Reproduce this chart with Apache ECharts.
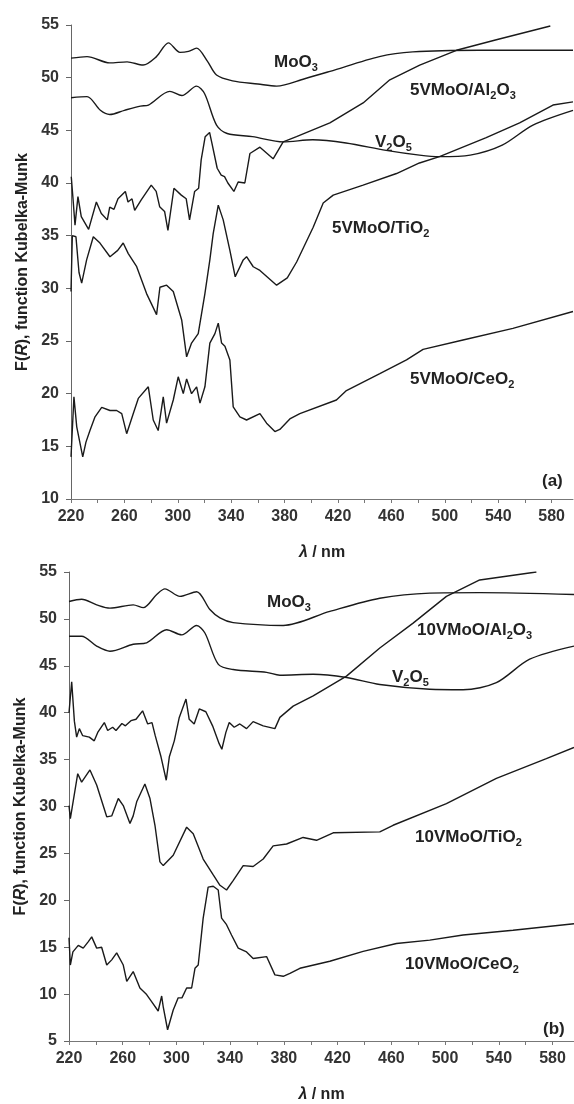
<!DOCTYPE html>
<html>
<head>
<meta charset="utf-8">
<script src="https://cdn.jsdelivr.net/npm/echarts@6/dist/echarts.min.js"></script>
<style>
html, body { margin: 0; padding: 0; background: #fff; }
#chart { width: 574px; height: 1104px; }
</style>
</head>
<body>
<div id="chart"></div>
<script>
// axis ticks
var xTicks = [220, 240, 260, 280, 300, 320, 340, 360, 380, 400, 420, 440, 460, 480, 500, 520, 540, 560, 580];
var xTickLabels = [220, 260, 300, 340, 380, 420, 460, 500, 540, 580];

// panel (a) - [wavelength nm, F(R)]
var aMoO3 = [[220,51.85],[232,52.0],[249,51.4],[262,51.5],[274,51.2],[284,52.0],[293,53.3],[301.6,52.4],[308,52.5],[314,52.8],[322,51.6],[329,50.25],[341,49.7],[360,49.4],[374,49.2],[395,49.9],[414,50.6],[451,52.0],[476,52.45],[526,52.6],[596,52.6]];
var aV2O5 = [[220,48.1],[232,48.2],[242,46.9],[249,46.5],[260,46.9],[272,47.3],[278,47.4],[294,48.7],[303,48.3],[314,49.2],[320,48.5],[329,45.5],[337,44.7],[356,44.4],[379,43.9],[401,44.1],[426,43.8],[456,43.1],[481,42.65],[496,42.5],[519,42.65],[543,43.6],[566,45.5],[596,46.9]];
var aAl = [[220.2,40.6],[221.5,38.5],[223,36.0],[225.2,38.7],[227.7,36.8],[233.2,35.6],[239,38.2],[242.7,37.1],[247.2,36.5],[249,37.7],[252.2,37.5],[255.2,38.5],[260.7,39.2],[262.7,38.2],[265.7,38.5],[267.7,37.4],[272.6,38.4],[280.1,39.8],[283.8,39.2],[286.4,37.75],[290.1,37.3],[292.6,35.5],[297.1,39.5],[302.6,38.85],[306.3,38.5],[308.8,36.5],[312.6,39.2],[315.6,39.5],[317.5,42.2],[320.5,44.4],[323.8,44.8],[325.5,43.8],[329.5,41.4],[332.5,40.75],[335,40.6],[337.5,40.0],[342,39.2],[345.2,40.1],[350.2,40.0],[354,42.8],[361.5,43.4],[371.4,42.3],[378.9,43.9],[388.9,44.4],[413.9,45.7],[438.8,47.6],[458.8,49.8],[481.2,51.2],[508.7,52.6],[538.6,53.6],[579,54.9]];
var aTi = [[220,29.7],[221,35.0],[223.7,34.9],[226,31.5],[228,30.5],[231.7,32.7],[236.7,34.9],[241.7,34.3],[249.2,33.0],[255,33.6],[259.1,34.3],[262.9,33.3],[269.2,32.05],[276.6,29.5],[284.1,27.5],[286.6,30.1],[291.6,30.3],[296.6,29.7],[302.9,27.0],[306.6,23.5],[310.3,24.8],[315.3,25.7],[320.3,29.5],[324,32.7],[326.5,35.2],[330.3,37.9],[334,36.5],[339,33.6],[343,31.1],[349,32.7],[351.5,33.0],[356.5,32.05],[361.5,31.7],[374,30.3],[382,31.0],[389,32.5],[401.4,35.8],[408.9,38.1],[416.4,38.85],[438.8,39.8],[463.8,40.9],[481,41.9],[496,42.5],[531,44.3],[556,45.7],[581,47.4],[596,47.7]];
var aCe = [[220,14.0],[222.2,19.7],[224.3,16.85],[228.8,14.0],[231.2,15.4],[234.2,16.5],[238,17.8],[243,18.7],[249.2,18.4],[254.2,18.4],[258,18.1],[261.7,16.2],[266.6,18.1],[270.4,19.55],[277.9,20.65],[281.6,17.5],[285.3,16.5],[289.1,19.7],[291.6,17.2],[296.6,19.4],[300.3,21.6],[304.1,20.0],[306.6,21.4],[310.3,20.0],[314.1,20.65],[316.6,19.1],[320.3,20.65],[324,24.8],[327.8,25.7],[330.3,26.7],[332.8,24.8],[335.3,24.5],[339,23.2],[341.5,18.75],[346.5,17.8],[351.5,17.5],[361.5,18.1],[366.5,17.2],[372.7,16.4],[376.4,16.6],[383.9,17.6],[391.4,18.1],[418.8,19.4],[426.3,20.3],[451.3,21.9],[471.3,23.2],[483.7,24.2],[513.6,25.1],[551,26.2],[596,27.8]];

// panel (b)
var bMoO3 = [[220,51.85],[229.4,52.1],[240.6,51.5],[250.5,51.15],[267.8,51.5],[275.3,51.2],[285.3,52.6],[291.4,53.2],[302.6,52.4],[315,52.9],[324.9,51.0],[332.4,50.1],[342.2,49.6],[379.5,49.3],[414.2,50.8],[451.4,52.2],[488.6,52.75],[525.8,52.8],[596,52.6]];
var bV2O5 = [[220,48.15],[229.4,48.15],[240.6,47.1],[250.5,46.55],[267.8,47.3],[277.8,47.45],[292.7,48.85],[303.9,48.3],[315,49.3],[321.2,48.5],[331.2,45.15],[342.2,44.6],[367.1,44.3],[377,44.0],[401.8,44.1],[426.6,43.75],[451.4,43.0],[488.6,42.5],[513.4,42.45],[538.2,43.2],[563,45.7],[596,47.1]];
var bAl = [[220,40.0],[222,43.3],[224,39.1],[225.7,37.4],[227.7,38.3],[230.2,37.55],[235.1,37.4],[238.8,37.0],[241.4,37.9],[246.3,38.95],[248.8,38.1],[252.5,38.45],[255,38.1],[259.4,38.85],[262,38.6],[266.1,39.15],[269.9,39.3],[274.8,40.2],[278.6,38.8],[281.8,38.95],[284.2,37.55],[288.5,35.3],[292.4,32.8],[294.7,35.3],[298.4,37.0],[302.1,39.5],[307.1,41.45],[309.5,39.3],[313.2,38.8],[317,40.4],[321.9,40.1],[326.9,38.6],[331.8,36.7],[333.8,36.1],[336.8,37.9],[339.3,38.95],[343,38.45],[347.2,38.8],[352.2,38.3],[357.1,39.05],[364.6,38.6],[373.3,38.3],[377,39.5],[386.9,40.7],[401.8,41.8],[426.6,43.9],[451.4,46.9],[476.2,49.55],[501,52.4],[525.8,54.15],[568,55.0]];
var bTi = [[220,30.1],[221,28.7],[226.5,33.5],[229.4,32.6],[235.6,33.9],[240.6,32.3],[248.1,28.9],[251.8,29.0],[256.7,30.85],[260.4,30.1],[265.4,28.2],[267.8,29.0],[270.4,30.5],[276.5,32.4],[280.3,30.85],[284,28.0],[287.7,24.1],[290.2,23.7],[297.6,24.8],[307.6,27.8],[312.5,27.1],[319.9,24.4],[327.4,22.7],[332.4,21.6],[337.3,21.1],[342.2,22.1],[349.7,23.7],[357.1,23.6],[364.6,24.4],[372,25.8],[382,26.0],[394.3,26.7],[404.3,26.4],[416.7,27.2],[451.4,27.3],[461.3,28.0],[501,30.3],[538.2,33.0],[575.4,35.1],[596,36.3]];
var bCe = [[220,16.0],[221,13.1],[222.9,14.5],[226.9,15.2],[230.6,14.9],[234.4,15.6],[236.9,16.1],[240.6,14.9],[244.3,15.0],[248.1,13.1],[251.8,13.65],[255.5,14.4],[260.4,13.1],[263,11.35],[267.8,12.4],[272.8,10.65],[277.8,9.95],[281.5,9.2],[286.4,8.2],[289,9.8],[290.2,8.6],[293.4,6.2],[297.6,8.3],[301.3,9.6],[304.1,9.6],[307.6,10.65],[311.3,10.65],[313.8,12.75],[316.2,13.1],[319.9,18.1],[323.6,21.4],[327.4,21.5],[331.1,21.1],[333.6,18.1],[337.3,17.4],[341,16.3],[346,14.9],[352.2,14.5],[357.1,13.8],[367.1,14.0],[373.3,12.05],[379.5,11.9],[384.5,12.2],[391.9,12.75],[414.2,13.5],[439,14.55],[463.8,15.4],[488.6,15.75],[513.4,16.3],[550.6,16.8],[596,17.5]];

var FONT = '"Liberation Sans", Arial, sans-serif';
var INK = '#222';

var nameRich = {
    t: { fontFamily: FONT, fontWeight: 'bold', fontSize: 16, color: INK },
    i: { fontFamily: FONT, fontWeight: 'bold', fontStyle: 'italic', fontSize: 16, color: INK }
};

function xAxis(idx) {
    return {
        type: 'value', gridIndex: idx, min: 220, max: 596,
        name: '{i|λ}{t| / nm}', nameLocation: 'middle', nameGap: 46,
        nameTextStyle: { rich: nameRich },
        axisLine: { lineStyle: { color: '#777', width: 1 } },
        axisTick: { customValues: xTicks, length: 4, lineStyle: { color: '#777' } },
        axisLabel: { customValues: xTickLabels, margin: 10, fontFamily: FONT, fontWeight: 'bold', fontSize: 16, color: '#333' },
        splitLine: { show: false }
    };
}

function yAxis(idx, min) {
    return {
        type: 'value', gridIndex: idx, min: min, max: 55, interval: 5,
        name: '{t|F(}{i|R}{t|), function Kubelka-Munk}', nameLocation: 'middle', nameGap: 36, nameRotate: 90,
        nameTextStyle: { rich: nameRich },
        axisLine: { show: true, lineStyle: { color: '#666', width: 1 } },
        axisTick: { show: true, length: 5, lineStyle: { color: '#666' } },
        axisLabel: { margin: 12, fontFamily: FONT, fontWeight: 'bold', fontSize: 16, color: '#333' },
        splitLine: { show: false }
    };
}

function line(data, idx, smooth) {
    return {
        type: 'line', xAxisIndex: idx, yAxisIndex: idx, data: data,
        showSymbol: false, symbol: 'none', silent: true, smooth: smooth || false,
        lineStyle: { color: '#1a1a1a', width: 1.4 }
    };
}

var subRich = {
    s: { fontFamily: FONT, fontWeight: 'bold', fontSize: 11, verticalAlign: 'bottom', lineHeight: 12, fill: INK }
};

function tag(text, x, y) {
    return {
        type: 'text', x: x, y: y, silent: true,
        style: {
            text: text, fill: INK, font: 'bold 17px ' + FONT,
            verticalAlign: 'middle', lineHeight: 22, rich: subRich
        }
    };
}

var chart = echarts.init(document.getElementById('chart'));
chart.setOption({
    animation: false,
    backgroundColor: '#fff',
    grid: [
        { left: 71, top: 25, width: 502, height: 474 },
        { left: 69, top: 572, width: 505, height: 472 }
    ],
    xAxis: [xAxis(0), xAxis(1)],
    yAxis: [yAxis(0, 10), yAxis(1, 5)],
    series: [
        line(aMoO3, 0, 0.3), line(aV2O5, 0, 0.3), line(aAl, 0), line(aTi, 0), line(aCe, 0),
        line(bMoO3, 1, 0.3), line(bV2O5, 1, 0.3), line(bAl, 1), line(bTi, 1), line(bCe, 1)
    ],
    graphic: [
        tag('MoO{s|3}', 274, 62),
        tag('5VMoO/Al{s|2}O{s|3}', 410, 90),
        tag('V{s|2}O{s|5}', 375, 142),
        tag('5VMoO/TiO{s|2}', 332, 228),
        tag('5VMoO/CeO{s|2}', 410, 379),
        tag('(a)', 542, 481),
        tag('MoO{s|3}', 267, 602),
        tag('10VMoO/Al{s|2}O{s|3}', 417, 630),
        tag('V{s|2}O{s|5}', 392, 677),
        tag('10VMoO/TiO{s|2}', 415, 837),
        tag('10VMoO/CeO{s|2}', 405, 964),
        tag('(b)', 543, 1029)
    ]
});
</script>
</body>
</html>
